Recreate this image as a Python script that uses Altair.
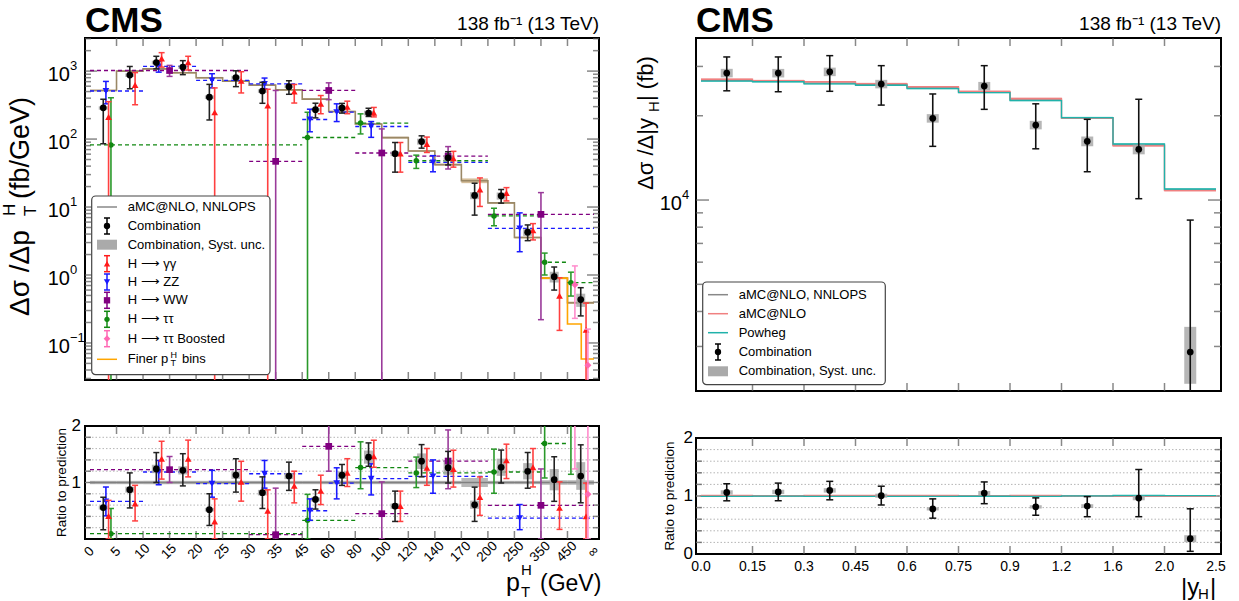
import altair as alt
import pandas as pd

FONT = "Liberation Sans"

# ---------------- data: left panel (pT^H) ----------------
pt_edges = ["0", "5", "10", "15", "20", "25", "30", "35", "45", "60", "80", "100",
            "120", "140", "170", "200", "250", "350", "450", "∞"]
nnlops_pt = [519, 1000, 1080, 944, 797, 712, 622, 530, 387, 254, 167, 105, 66.8, 42,
             24.4, 11.5, 3.56, 0.90, 0.39]
nnlops_pt_unc = [0.03, 0.03, 0.03, 0.03, 0.03, 0.03, 0.03, 0.03, 0.03, 0.03, 0.03, 0.03,
                 0.03, 0.03, 0.08, 0.03, 0.03, 0.04, 0.04]

comb_pt = [288, 873, 1339, 1147, 414, 805, 510, 591, 271, 287, 242, 61, 92, 53, 14.8,
           14.6, 4.27, 0.945, 0.435]
comb_pt_hi = [384, 1170, 1652, 1425, 638, 1011, 684, 721, 337, 335, 284, 89, 111.6, 65.1,
              22.4, 18.1, 5.45, 1.31, 0.65]
comb_pt_lo = [85.6, 550, 1080, 887, 191, 591, 336, 456, 205, 241, 215, 32.6, 73.5, 41.6,
              7.6, 11.4, 3.2, 0.60, 0.25]
comb_pt_syst = [0.06, 0.06, 0.06, 0.06, 0.06, 0.06, 0.06, 0.05, 0.05, 0.06, 0.08, 0.08,
                0.10, 0.10, 0.12, 0.12, 0.12, 0.18, 0.22]

gg_pt = [211, 625, 1534, 1340, 247, 719, 311, 498, 329, 297, 244, 61, 84, 52, 18.1, 16.0,
         4.52, 0.495, 0.156]
gg_pt_hi = [355, 950, 1868, 1652, 566, 979, 541, 636, 437, 361, 292, 89, 107, 66, 26.8,
            19.3, 5.7, 0.91, 0.386]
gg_pt_lo = [0.001, 320, 1145, 1038, 0.001, 477, 0.001, 339, 236, 236, 212, 32.6, 63.5, 38.6,
            10.2, 12.3, 3.28, 0.153, 0.001]

zz_bins = ["0", "10", "20", "30", "45", "60", "80", "120", "200", "∞"]
zz_x = [0.6, 2.59, 4.6, 6.58, 8.29, 9.3, 10.6, 12.93, 16.2]
zz_val = [510, 1170, 729, 650, 194, 249, 153, 45.5, 4.86]
zz_hi = [705, 1400, 915, 790, 275, 330, 181, 57, 8.2]
zz_lo = [330, 965, 567, 548, 128, 181, 106, 33, 2.2]
zz_ratio = [0.667, 1.186, 0.98, 1.155, 0.50, 0.99, 1.07, 1.11, 0.37]
zz_ratio_hi = [0.92, 1.39, 1.215, 1.39, 0.71, 1.26, 1.33, 1.40, 0.61]
zz_ratio_lo = [0.41, 0.96, 0.74, 0.90, 0.33, 0.71, 0.78, 0.81, 0.165]

ww_bins = ["0", "30", "45", "80", "120", "200", "∞"]
ww_x = [3.0, 7.0, 9.0, 11.0, 13.5, 17.0]
ww_val = [1020, 47, 519, 62.4, 56, 7.8]
ww_hi = [1213, 519, 672, 141, 77.5, 16.3]
ww_lo = [836, 0.001, 380, 0.001, 36.3, 0.22]
ww_ratio = [1.227, 0.076, 1.64, 0.448, 1.38, 0.596]
ww_ratio_hi = [1.46, 0.90, 2.16, 1.01, 1.93, 1.24]
ww_ratio_lo = [1.0, 0.0, 1.2, 0.0, 0.89, 0.0]

tt_bins = ["0", "45", "80", "120", "200", "350", "450", "∞"]
tt_x = [0.79, 8.2, 10.2, 12.3, 15.23, 17.14, 18.13]
tt_val = [81.9, 105.5, 172, 48, 7.4, 1.54, 0.77]
tt_hi = [405, 248, 235, 58, 9.6, 2.1, 1.1]
tt_lo = [0.001, 0.001, 119, 37, 5.3, 1.0, 0.49]
tt_ratio = [0.094, 0.33, 1.265, 1.17, 1.186, 1.69, 2.3]
tt_ratio_hi = [0.54, 0.79, 1.72, 1.45, 1.59, 2.5, 3.2]
tt_ratio_lo = [0.0, 0.0, 0.89, 0.91, 0.81, 1.08, 1.145]

boost_x = [18.28, 18.77]
boost_val = [0.72, 0.047]
boost_hi = [1.36, 0.16]
boost_lo = [0.23, 0.001]
boost_ratio = [3.8, 0.79]
boost_ratio_hi = [7.0, 2.5]
boost_ratio_lo = [1.24, 0.0]

finer_x = [17, 18, 18.52, 19]
finer_val = [0.90, 0.19, 0.058, 0.058]

# ---------------- data: right panel (|yH|) ----------------
y_edges = ["0.0", "0.15", "0.3", "0.45", "0.6", "0.75", "0.9", "1.2", "1.6", "2.0", "2.5"]
nnlops_y = [26770, 26530, 26170, 25830, 25170, 24300, 22800, 19630, 15720, 10880]
amc_y = [27000, 26700, 26450, 26050, 25400, 24450, 23050, 19650, 15600, 10800]
powheg_y = [26600, 26450, 26000, 25700, 25000, 24200, 22650, 19700, 15850, 10950]
comb_y = [28420, 28400, 28700, 25960, 19580, 25520, 18530, 16210, 15170, 2866]
comb_y_hi = [32430, 32430, 32780, 30190, 23920, 30190, 22060, 19420, 22900, 8480]
comb_y_lo = [24550, 24360, 24450, 21830, 15550, 21080, 15240, 12620, 10110, 500]
comb_y_syst = [0.035, 0.035, 0.035, 0.035, 0.035, 0.035, 0.035, 0.04, 0.04, 0.23]

# ---------------- geometry ----------------
W_L, H_LT, H_LR = 514, 342, 113
W_R, H_RT, H_RR = 525, 353, 116

RED, BLUE, PURPLE, GREEN, PINK = "#ff1a1a", "#1a1aff", "#800080", "#118811", "#ff69b4"
GRIDC = "#e4e4e4"
TICKC = "#555555"

xL = alt.Scale(domain=[0, 19], nice=False, zero=False)
yLT = alt.Scale(type="log", domain=[0.0285, 3070], nice=False)
yR01 = alt.Scale(domain=[0, 2], nice=False, zero=False)
xR = alt.Scale(domain=[0, 10], nice=False, zero=False)
yRT = alt.Scale(type="log", domain=[2080, 37900], nice=False)

one = pd.DataFrame({"a": [0]})


def txt(text, x, y, size, angle=0, align="left", baseline="alphabetic", bold=False,
        color="black", font=FONT):
    return alt.Chart(one).mark_text(
        text=text, fontSize=size, angle=angle, align=align, baseline=baseline,
        fontWeight="bold" if bold else "normal", color=color, font=font
    ).encode(x=alt.value(x), y=alt.value(y))


def xgrid_layer(n, xs):
    df = pd.DataFrame({"x": list(range(n + 1))})
    ax = alt.Axis(grid=True, gridColor=GRIDC, gridWidth=1.5, values=list(range(n + 1)),
                  labels=False, ticks=False, domain=False, title=None)
    return alt.Chart(df).mark_rule(opacity=0).encode(x=alt.X("x:Q", scale=xs, axis=ax))


def xlabels(labels, xs, y, size, angle=0, dx=0):
    df = pd.DataFrame({"x": list(range(len(labels))), "t": labels})
    return alt.Chart(df).mark_text(fontSize=size, angle=angle, align="center",
                                   baseline="middle", font=FONT, dx=dx).encode(
        x=alt.X("x:Q", scale=xs, axis=None), y=alt.value(y), text="t:N")


def inward_xticks(n, xs, height, size=16):
    df = pd.DataFrame({"x": list(range(1, n))})
    base = alt.Chart(df).mark_tick(orient="vertical", size=size, thickness=1.5, color=TICKC,
                                   clip=True)
    return [base.encode(x=alt.X("x:Q", scale=xs, axis=None), y=alt.value(0)),
            base.encode(x=alt.X("x:Q", scale=xs, axis=None), y=alt.value(height))]


def inward_yticks(vals, ys, width, size):
    df = pd.DataFrame({"y": vals})
    base = alt.Chart(df).mark_tick(orient="horizontal", size=size, thickness=1.5,
                                   color=TICKC, clip=True)
    return [base.encode(y=alt.Y("y:Q", scale=ys, axis=None), x=alt.value(0)),
            base.encode(y=alt.Y("y:Q", scale=ys, axis=None), x=alt.value(width))]


def errpoints(df, xs, ys, color, shape, size, cap=6, ecolor=None, eopacity=1.0):
    ecolor = ecolor or color
    base = alt.Chart(df)
    X = alt.X("x:Q", scale=xs, axis=None)
    rule = base.mark_rule(color=ecolor, strokeWidth=1.6, clip=True, opacity=eopacity).encode(
        x=X, y=alt.Y("lo:Q", scale=ys, axis=None), y2="hi:Q")
    chi = base.mark_tick(orient="horizontal", size=cap, thickness=1.5, color=ecolor, clip=True,
                         opacity=eopacity).encode(x=X, y=alt.Y("hi:Q", scale=ys, axis=None))
    clo = base.mark_tick(orient="horizontal", size=cap, thickness=1.5, color=ecolor, clip=True,
                         opacity=eopacity).encode(x=X, y=alt.Y("lo:Q", scale=ys, axis=None))
    pt = base.mark_point(filled=True, shape=shape, size=size, color=color, opacity=1,
                         clip=True).encode(x=X, y=alt.Y("v:Q", scale=ys, axis=None))
    return [rule, chi, clo, pt]


def dashed_bins(edges_lab, vals, color, xs, ys, edge_list):
    lo = [edge_list.index(e) for e in edges_lab[:-1]]
    hi = [edge_list.index(e) for e in edges_lab[1:]]
    df = pd.DataFrame({"x": lo, "x2": hi, "v": vals})
    return alt.Chart(df).mark_rule(color=color, strokeDash=[4, 3], strokeWidth=1.3,
                                   clip=True).encode(
        x=alt.X("x:Q", scale=xs, axis=None), x2="x2:Q",
        y=alt.Y("v:Q", scale=ys, axis=None))


def step(xvals, yvals, color, xs, ys, width=1.5, opacity=1.0):
    df = pd.DataFrame({"x": xvals, "v": yvals})
    return alt.Chart(df).mark_line(interpolate="step-after", color=color, strokeWidth=width,
                                   clip=True, opacity=opacity).encode(
        x=alt.X("x:Q", scale=xs, axis=None), y=alt.Y("v:Q", scale=ys, axis=None))


def band(vals, unc, color, xs, ys, opacity=0.6):
    n = len(vals)
    df = pd.DataFrame({"x": list(range(n)), "x2": list(range(1, n + 1)),
                       "lo": [v * (1 - u) for v, u in zip(vals, unc)],
                       "hi": [v * (1 + u) for v, u in zip(vals, unc)]})
    return alt.Chart(df).mark_rect(color=color, opacity=opacity, clip=True).encode(
        x=alt.X("x:Q", scale=xs, axis=None), x2="x2:Q",
        y=alt.Y("lo:Q", scale=ys, axis=None), y2="hi:Q")


def systbox(xvals, vals, rel, xs, ys, size):
    df = pd.DataFrame({"x": xvals, "lo": [v * (1 - r) for v, r in zip(vals, rel)],
                       "hi": [v * (1 + r) for v, r in zip(vals, rel)]})
    return alt.Chart(df).mark_bar(size=size, color="#a9a9a9", opacity=0.85, clip=True).encode(
        x=alt.X("x:Q", scale=xs, axis=None), y=alt.Y("lo:Q", scale=ys, axis=None), y2="hi:Q")


def mkdf(x, v, lo, hi):
    return pd.DataFrame({"x": x, "v": v, "lo": lo, "hi": hi})


def log_minor(lo_exp, hi_exp):
    vals = []
    for e in range(lo_exp, hi_exp + 1):
        for m in range(2, 10):
            vals.append(m * 10.0 ** e)
    return vals


def ylabel(val, text, ys, x, size=17, dy=0):
    df = pd.DataFrame({"y": [val]})
    return alt.Chart(df).mark_text(text=text, fontSize=size, align="right",
                                   baseline="middle", font=FONT, dy=dy).encode(
        y=alt.Y("y:Q", scale=ys, axis=None), x=alt.value(x))


def ysup(val, text, ys, x, size=13, dy=-5):
    df = pd.DataFrame({"y": [val]})
    return alt.Chart(df).mark_text(text=text, fontSize=size, align="left",
                                   baseline="middle", font=FONT, dy=dy).encode(
        y=alt.Y("y:Q", scale=ys, axis=None), x=alt.value(x))


# --------------- legend helpers ---------------
def leg_line(y, color, x0=12, x1=32, width=1.5):
    return alt.Chart(one).mark_rule(color=color, strokeWidth=width).encode(
        x=alt.value(x0), x2=alt.value(x1), y=alt.value(y))


def leg_errpt(y, color, shape, size, xc=22):
    return [
        alt.Chart(one).mark_rule(color=color, strokeWidth=1.5).encode(
            x=alt.value(xc), y=alt.value(y - 8), y2=alt.value(y + 8)),
        alt.Chart(one).mark_rule(color=color, strokeWidth=1.5).encode(
            x=alt.value(xc - 3), x2=alt.value(xc + 3), y=alt.value(y - 8)),
        alt.Chart(one).mark_rule(color=color, strokeWidth=1.5).encode(
            x=alt.value(xc - 3), x2=alt.value(xc + 3), y=alt.value(y + 8)),
        alt.Chart(one).mark_point(filled=True, shape=shape, size=size, color=color,
                                  opacity=1).encode(x=alt.value(xc), y=alt.value(y)),
    ]


def leg_box(y, x0=12, x1=32):
    return alt.Chart(one).mark_rect(color="#aaaaaa").encode(
        x=alt.value(x0), x2=alt.value(x1), y=alt.value(y - 5), y2=alt.value(y + 5))


def leg_frame(x0, x1, y0, y1):
    return alt.Chart(one).mark_rect(fill="white", stroke="#444444", strokeWidth=1.2,
                                    cornerRadius=4).encode(
        x=alt.value(x0), x2=alt.value(x1), y=alt.value(y0), y2=alt.value(y1))


LFS = 13

# =============== LEFT TOP ===============
idx19 = list(range(19))
lt_layers = [xgrid_layer(19, xL)]
lt_layers += inward_xticks(19, xL, H_LT)
lt_layers += inward_yticks([10.0 ** e for e in range(-1, 4)], yLT, W_L, 24)
lt_layers += inward_yticks([v for v in log_minor(-2, 3) if 0.0285 < v < 3070], yLT, W_L, 12)
lt_layers.append(band(nnlops_pt, nnlops_pt_unc, "#c9ad7f", xL, yLT, 0.8))
lt_layers.append(step(idx19 + [19], nnlops_pt + [nnlops_pt[-1]], "#9a8866", xL, yLT, 1.6))
lt_layers.append(step(finer_x, finer_val, "#ffa500", xL, yLT, 1.6))
lt_layers.append(dashed_bins(ww_bins, ww_val, PURPLE, xL, yLT, pt_edges))
lt_layers.append(dashed_bins(zz_bins, zz_val, BLUE, xL, yLT, pt_edges))
lt_layers.append(dashed_bins(tt_bins, tt_val, GREEN, xL, yLT, pt_edges))
comb_x = [i + 0.5 for i in idx19]
gg_x = [i + 0.7 for i in idx19]
lt_layers.append(systbox(comb_x, comb_pt, comb_pt_syst, xL, yLT, 9))
lt_layers += errpoints(mkdf(ww_x, ww_val, ww_lo, ww_hi), xL, yLT, PURPLE, "square", 45,
                       ecolor="#9a3a9a")
lt_layers += errpoints(mkdf(tt_x, tt_val, tt_lo, tt_hi), xL, yLT, GREEN, "circle", 30,
                       ecolor="#2a992a")
lt_layers += errpoints(mkdf(zz_x, zz_val, zz_lo, zz_hi), xL, yLT, BLUE, "triangle-down", 45)
lt_layers += errpoints(mkdf(gg_x, gg_pt, gg_pt_lo, gg_pt_hi), xL, yLT, RED, "triangle-up", 45,
                       ecolor="#ff4040")
lt_layers += errpoints(mkdf(boost_x, boost_val, boost_lo, boost_hi), xL, yLT, PINK, "diamond",
                       50, ecolor="#ff8ccc")
lt_layers += errpoints(mkdf(comb_x, comb_pt, comb_pt_lo, comb_pt_hi), xL, yLT, "black",
                       "circle", 45, ecolor="#222222")
for e, sup in zip(range(-1, 4), ["−1", "0", "1", "2", "3"]):
    lt_layers.append(ylabel(10.0 ** e, "10", yLT, -15, size=20, dy=4))
    lt_layers.append(ysup(10.0 ** e, sup, yLT, -15))
# legend
lt_layers.append(leg_frame(6.7, 185, 158, 336.7))
ly = [169, 188, 206.7, 225.7, 244, 262.3, 281.3, 300.7, 321.3]
lt_layers.append(leg_line(ly[0], "#888888"))
lt_layers += leg_errpt(ly[1], "black", "circle", 40)
lt_layers.append(leg_box(ly[2]))
lt_layers += leg_errpt(ly[3], RED, "triangle-up", 40)
lt_layers += leg_errpt(ly[4], BLUE, "triangle-down", 40)
lt_layers += leg_errpt(ly[5], PURPLE, "square", 40)
lt_layers += leg_errpt(ly[6], GREEN, "circle", 28)
lt_layers += leg_errpt(ly[7], PINK, "diamond", 45)
lt_layers.append(leg_line(ly[8], "#ffa500"))
labels_l = ["aMC@NLO, NNLOPS", "Combination", "Combination, Syst. unc.", "H ⟶ γγ",
            "H ⟶  ZZ", "H ⟶  WW", "H ⟶ ττ", "H ⟶ ττ Boosted"]
for t, y in zip(labels_l, ly[:8]):
    lt_layers.append(txt(t, 42.7, y, LFS, baseline="middle"))
lt_layers.append(txt("Finer p", 42.7, ly[8], LFS, baseline="middle"))
lt_layers.append(txt("H", 85.5, ly[8] - 4, 9, baseline="middle"))
lt_layers.append(txt("T", 85.5, ly[8] + 4, 9, baseline="middle"))
lt_layers.append(txt("bins", 97, ly[8], LFS, baseline="middle"))
lt_layers.append(txt("CMS", 0, -6, 35, bold=True))
lt_layers.append(txt("138 fb⁻¹ (13 TeV)", W_L, -8, 19, align="right"))
lt_layers.append(txt("Δσ /Δp", -64, 278, 28, angle=270, baseline="middle"))
lt_layers.append(txt("T", -54, 178, 17, angle=270, baseline="middle"))
lt_layers.append(txt("H", -75, 178, 17, angle=270, baseline="middle"))
lt_layers.append(txt("(fb/GeV)", -64, 161, 27, angle=270, baseline="middle"))

left_top = alt.layer(*lt_layers).properties(width=W_L, height=H_LT)

# =============== LEFT RATIO ===============
lr_layers = [xgrid_layer(19, xL)]
lr_layers.append(xlabels(pt_edges, xL, H_LR + 12, 13.5, angle=315, dx=-1))
hg = pd.DataFrame({"y": [0.2, 0.4, 0.6, 0.8, 1.0, 1.2, 1.4, 1.6, 1.8]})
lr_layers.append(alt.Chart(hg).mark_rule(color="#b5b5b5", strokeDash=[1.5, 2],
                                         strokeWidth=1).encode(
    y=alt.Y("y:Q", scale=yR01, axis=None), x=alt.value(0), x2=alt.value(W_L)))
lr_layers += inward_xticks(19, xL, H_LR)
lr_layers += inward_yticks([0.2, 0.4, 0.6, 0.8, 1.2, 1.4, 1.6, 1.8], yR01, W_L, 12)
lr_layers += inward_yticks([1.0], yR01, W_L, 20)
ones = [1.0] * 19
lr_layers.append(band(ones, nnlops_pt_unc, "#9a9a9a", xL, yR01, 0.7))
lr_layers.append(step(idx19 + [19], ones + [1.0], "#808080", xL, yR01, 1.4))
lr_layers.append(dashed_bins(ww_bins, ww_ratio, PURPLE, xL, yR01, pt_edges))
lr_layers.append(dashed_bins(zz_bins, zz_ratio, BLUE, xL, yR01, pt_edges))
lr_layers.append(dashed_bins(tt_bins, tt_ratio, GREEN, xL, yR01, pt_edges))
comb_r = [c / n for c, n in zip(comb_pt, nnlops_pt)]
comb_r_hi = [c / n for c, n in zip(comb_pt_hi, nnlops_pt)]
comb_r_lo = [c / n for c, n in zip(comb_pt_lo, nnlops_pt)]
gg_r = [c / n for c, n in zip(gg_pt, nnlops_pt)]
gg_r_hi = [c / n for c, n in zip(gg_pt_hi, nnlops_pt)]
gg_r_lo = [c / n for c, n in zip(gg_pt_lo, nnlops_pt)]
lr_layers.append(systbox(comb_x, comb_r, comb_pt_syst, xL, yR01, 9))
lr_layers += errpoints(mkdf(ww_x, ww_ratio, ww_ratio_lo, ww_ratio_hi), xL, yR01, PURPLE,
                       "square", 45, ecolor="#9a3a9a")
lr_layers += errpoints(mkdf(tt_x, tt_ratio, tt_ratio_lo, tt_ratio_hi), xL, yR01, GREEN,
                       "circle", 30, ecolor="#2a992a")
lr_layers += errpoints(mkdf(zz_x, zz_ratio, zz_ratio_lo, zz_ratio_hi), xL, yR01, BLUE,
                       "triangle-down", 45)
lr_layers += errpoints(mkdf(gg_x, gg_r, gg_r_lo, gg_r_hi), xL, yR01, RED, "triangle-up", 45,
                       ecolor="#ff4040")
lr_layers += errpoints(mkdf(boost_x, boost_ratio, boost_ratio_lo, boost_ratio_hi), xL, yR01,
                       PINK, "diamond", 50, ecolor="#ff8ccc")
lr_layers += errpoints(mkdf(comb_x, comb_r, comb_r_lo, comb_r_hi), xL, yR01, "black",
                       "circle", 45, ecolor="#222222")
for v in [2, 1]:
    lr_layers.append(ylabel(v, str(v), yR01, -4))
lr_layers.append(txt("Ratio to prediction", -23, H_LR / 2, 13.5, angle=270, align="center",
                     baseline="middle"))
lr_layers.append(txt("p", 421, 165, 25))
lr_layers.append(txt("H", 436, 149, 15))
lr_layers.append(txt("T", 436, 171, 15))
lr_layers.append(txt("(GeV)", 455, 165, 23))

left_ratio = alt.layer(*lr_layers).properties(width=W_L, height=H_LR)

# =============== RIGHT TOP ===============
idx10 = list(range(10))
rt_layers = [xgrid_layer(10, xR)]
rt_layers += inward_xticks(10, xR, H_RT)
rt_layers += inward_yticks([10000], yRT, W_R, 26)
rt_layers += inward_yticks([2000, 3000, 4000, 5000, 6000, 7000, 8000, 9000, 20000, 30000],
                           yRT, W_R, 14)
rt_layers.append(band(nnlops_y, [0.006] * 10, "#999999", xR, yRT, 0.6))
rt_layers.append(band(amc_y, [0.006] * 10, "#f4a0a0", xR, yRT, 0.7))
rt_layers.append(band(powheg_y, [0.006] * 10, "#5fcfc7", xR, yRT, 0.7))
rt_layers.append(step(idx10 + [10], nnlops_y + [nnlops_y[-1]], "#8a8a8a", xR, yRT, 1.3))
rt_layers.append(step(idx10 + [10], amc_y + [amc_y[-1]], "#f08080", xR, yRT, 1.3))
rt_layers.append(step(idx10 + [10], powheg_y + [powheg_y[-1]], "#20b2aa", xR, yRT, 1.3))
cy_x = [i + 0.5 for i in idx10]
rt_layers.append(systbox(cy_x, comb_y, comb_y_syst, xR, yRT, 12))
rt_layers += errpoints(mkdf(cy_x, comb_y, comb_y_lo, comb_y_hi), xR, yRT, "black", "circle",
                       45, cap=7, ecolor="#111111")
rt_layers.append(ylabel(10000, "10", yRT, -14, size=20, dy=4))
rt_layers.append(ysup(10000, "4", yRT, -14))
rt_layers.append(leg_frame(6.7, 189.3, 244, 346.7))
ry = [256.7, 275.7, 294.7, 314, 333.3]
rt_layers.append(leg_line(ry[0], "#888888"))
rt_layers.append(leg_line(ry[1], "#f08080"))
rt_layers.append(leg_line(ry[2], "#20b2aa"))
rt_layers += leg_errpt(ry[3], "black", "circle", 40)
rt_layers.append(leg_box(ry[4]))
for t, y in zip(["aMC@NLO, NNLOPS", "aMC@NLO", "Powheg", "Combination",
                 "Combination, Syst. unc."], ry):
    rt_layers.append(txt(t, 42.7, y, LFS, baseline="middle"))
rt_layers.append(txt("CMS", 0, -6, 35, bold=True))
rt_layers.append(txt("138 fb⁻¹ (13 TeV)", W_R, -8, 19, align="right"))
rt_layers.append(txt("Δσ /Δ|y", -50, 152, 22, angle=270, baseline="middle"))
rt_layers.append(txt("H", -42, 74, 15, angle=270, baseline="middle"))
rt_layers.append(txt("| (fb)", -50, 63, 22, angle=270, baseline="middle"))

right_top = alt.layer(*rt_layers).properties(width=W_R, height=H_RT)

# =============== RIGHT RATIO ===============
rr_layers = [xgrid_layer(10, xR)]
rr_layers.append(xlabels(y_edges, xR, H_RR + 13, 14))
rr_layers.append(alt.Chart(hg).mark_rule(color="#b5b5b5", strokeDash=[1.5, 2],
                                         strokeWidth=1).encode(
    y=alt.Y("y:Q", scale=yR01, axis=None), x=alt.value(0), x2=alt.value(W_R)))
rr_layers += inward_xticks(10, xR, H_RR)
rr_layers += inward_yticks([0.2, 0.4, 0.6, 0.8, 1.2, 1.4, 1.6, 1.8], yR01, W_R, 12)
rr_layers += inward_yticks([1.0], yR01, W_R, 20)
amc_r = [a / n for a, n in zip(amc_y, nnlops_y)]
pow_r = [a / n for a, n in zip(powheg_y, nnlops_y)]
ones10 = [1.0] * 10
rr_layers.append(step(idx10 + [10], ones10 + [1.0], "#8a8a8a", xR, yR01, 1.3))
rr_layers.append(step(idx10 + [10], amc_r + [amc_r[-1]], "#f08080", xR, yR01, 1.3))
rr_layers.append(step(idx10 + [10], pow_r + [pow_r[-1]], "#20b2aa", xR, yR01, 1.3))
cy_r = [c / n for c, n in zip(comb_y, nnlops_y)]
cy_r_hi = [c / n for c, n in zip(comb_y_hi, nnlops_y)]
cy_r_lo = [c / n for c, n in zip(comb_y_lo, nnlops_y)]
rr_layers.append(systbox(cy_x, cy_r, comb_y_syst, xR, yR01, 12))
rr_layers += errpoints(mkdf(cy_x, cy_r, cy_r_lo, cy_r_hi), xR, yR01, "black", "circle", 45,
                       cap=7, ecolor="#111111")
for v in [2, 1, 0]:
    rr_layers.append(ylabel(v, str(v), yR01, -3))
rr_layers.append(txt("Ratio to prediction", -26, H_RR / 2, 13.5, angle=270, align="center",
                     baseline="middle"))
rr_layers.append(txt("|y", 485, 157, 24))
rr_layers.append(txt("H", 502, 161, 15))
rr_layers.append(txt("|", 514, 157, 24))

right_ratio = alt.layer(*rr_layers).properties(width=W_R, height=H_RR)

left_col = alt.vconcat(left_top, left_ratio, spacing=46, bounds="flush").resolve_scale(
    x="independent", y="independent")
right_col = alt.vconcat(right_top, right_ratio, spacing=47, bounds="flush").resolve_scale(
    x="independent", y="independent")

chart = alt.hconcat(left_col, right_col, spacing=31).resolve_scale(
    x="independent", y="independent"
).properties(
    padding={"left": 0, "top": 3, "right": 5, "bottom": 0}
).configure(font=FONT, background="white").configure_view(
    stroke="black", strokeWidth=2
).configure_axis(domain=False, ticks=False, title=None)

chart.save("out.html", embed_options={"renderer": "svg", "actions": False})
